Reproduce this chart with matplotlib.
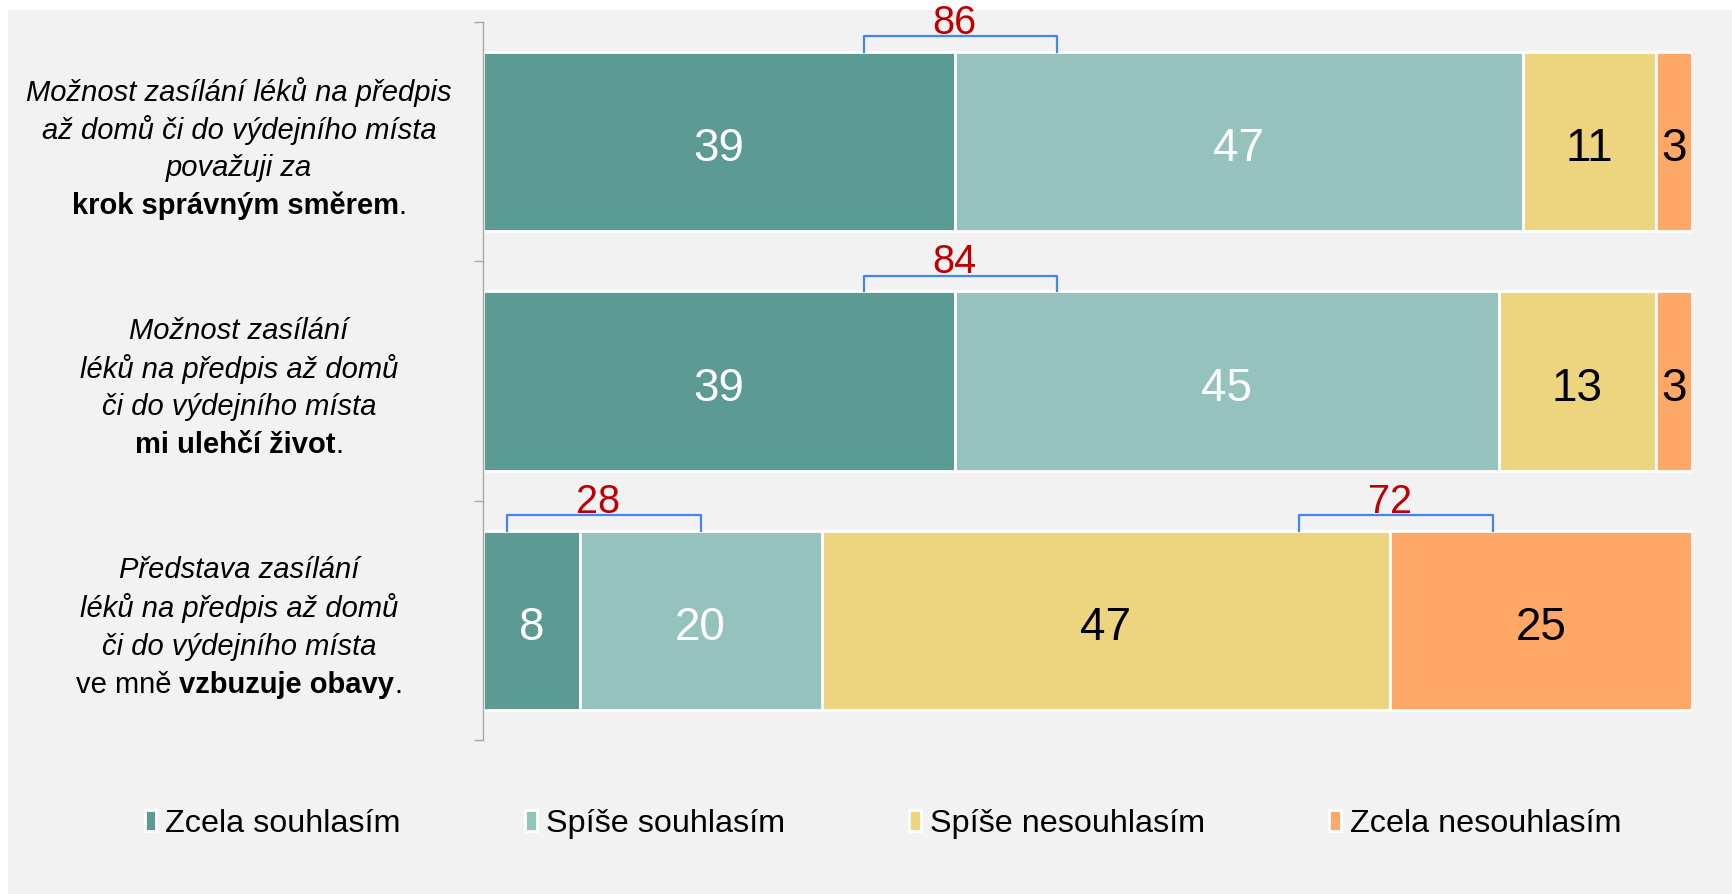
import numpy as np
import matplotlib.pyplot as plt
from matplotlib.patches import Rectangle

plt.rcParams['font.family'] = ['Liberation Sans', 'DejaVu Sans']

# data (percent)
series_names = ["Zcela souhlasím", "Spíše souhlasím", "Spíše nesouhlasím", "Zcela nesouhlasím"]
zcela_souhlasim = [39, 39, 8]
spise_souhlasim = [47, 45, 20]
spise_nesouhlasim = [11, 13, 47]
zcela_nesouhlasim = [3, 3, 25]

# label lines per row: list of lines, each line a list of (text, style)
row_labels = [
    [[("Možnost zasílání léků na předpis", "it")],
     [("až domů či do výdejního místa", "it")],
     [("považuji za", "it")],
     [("krok správným směrem", "bf"), (".", "rm")]],
    [[("Možnost zasílání", "it")],
     [("léků na předpis až domů", "it")],
     [("či do výdejního místa", "it")],
     [("mi ulehčí život", "bf"), (".", "rm")]],
    [[("Představa zasílání", "it")],
     [("léků na předpis až domů", "it")],
     [("či do výdejního místa", "it")],
     [("ve mně ", "rm"), ("vzbuzuje obavy", "bf"), (".", "rm")]],
]

# which sums get a bracket: (row, first series index, last series index)
brackets = [(0, 0, 1), (1, 0, 1), (2, 0, 1), (2, 2, 3)]

colors = ["#5B9B94", "#95C2BC", "#EDD47E", "#FEA767"]
text_colors = ["white", "white", "black", "black"]

W, H = 1732, 894
fig = plt.figure(figsize=(W / 100, H / 100), dpi=100)
fig.patch.set_facecolor("white")
fig.patches.append(Rectangle((8 / W, 0), 1 - 8 / W, 1 - 10 / H, transform=fig.transFigure,
                             facecolor="#F2F2F2", edgecolor="none", zorder=-10))

ax = fig.add_axes([483 / W, 1 - 740 / H, 1209 / W, 718 / H])
ax.set_facecolor("none")

values = np.array([zcela_souhlasim, spise_souhlasim, spise_nesouhlasim, zcela_nesouhlasim])
y = np.arange(values.shape[1])
bar_h = 0.75
left = np.zeros(len(y))
for vals, name, col, tcol in zip(values, series_names, colors, text_colors):
    ax.barh(y, vals, left=left, height=bar_h, color=col, edgecolor="white",
            linewidth=2, label=name)
    for yi, v, l in zip(y, vals, left):
        ax.annotate(str(v), xy=(l + v / 2, yi), xytext=(0, -2), textcoords="offset points",
                    ha="center", va="center_baseline", fontsize=33, color=tcol)
    left = left + vals

# brackets with group totals
starts = np.vstack([np.zeros(len(y)), np.cumsum(values, axis=0)])
half = 8
for row, a, b in brackets:
    total = values[a:b + 1, row].sum()
    boundary = starts[a + 1, row]
    c = max(boundary + 0.5, starts[a, row] + half + 2)
    top = row - bar_h / 2
    ly = top - 0.065
    ax.plot([c - half, c - half, c + half, c + half], [top, ly, ly, top],
            color="#4285F4", lw=1.6, clip_on=False, solid_joinstyle="round")
    ax.text(c - 0.5, top - 0.137, str(total), ha="center", va="center_baseline",
            fontsize=28.5, color="#C00000", clip_on=False)

ax.set_xlim(0, 100)
ax.set_ylim(len(y) - 0.5, -0.5)
ax.set_xticks([])
ax.set_yticks(np.arange(len(y) + 1) - 0.5)
ax.set_yticklabels([])
ax.tick_params(axis="y", length=6.5, width=1, color="#A6A6A6")
for s in ["top", "right", "bottom"]:
    ax.spines[s].set_visible(False)
ax.spines["left"].set_color("#A6A6A6")
ax.spines["left"].set_linewidth(1)

# category labels (mixed italic / bold lines)
styles = {"it": dict(style="italic"), "bf": dict(weight="bold"), "rm": dict()}
renderer = fig.canvas.get_renderer()
xc = 239 / W
line_pt = 27.5
for row, lines in enumerate(row_labels):
    n = len(lines)
    for i, parts in enumerate(lines):
        dy = -(i - (n - 1) / 2) * line_pt - 3
        texts = []
        for txt, st in parts:
            t = ax.annotate(txt, xy=(xc, row), xycoords=("figure fraction", "data"),
                            xytext=(0, dy), textcoords="offset points",
                            ha="left", va="center_baseline", fontsize=21, **styles[st])
            texts.append(t)
        widths = [t.get_window_extent(renderer).width * 72 / fig.dpi for t in texts]
        x0 = -sum(widths) / 2
        for t, w in zip(texts, widths):
            t.xyann = (x0, dy)
            x0 += w

fig.legend(loc="center", bbox_to_anchor=(883 / W, 1 - 824 / H), ncol=4, frameon=False,
           fontsize=23.3, handlelength=0.35, handleheight=0.6, handletextpad=0.28,
           columnspacing=3.85)

fig.savefig("out.png", dpi=100, facecolor=fig.get_facecolor())
